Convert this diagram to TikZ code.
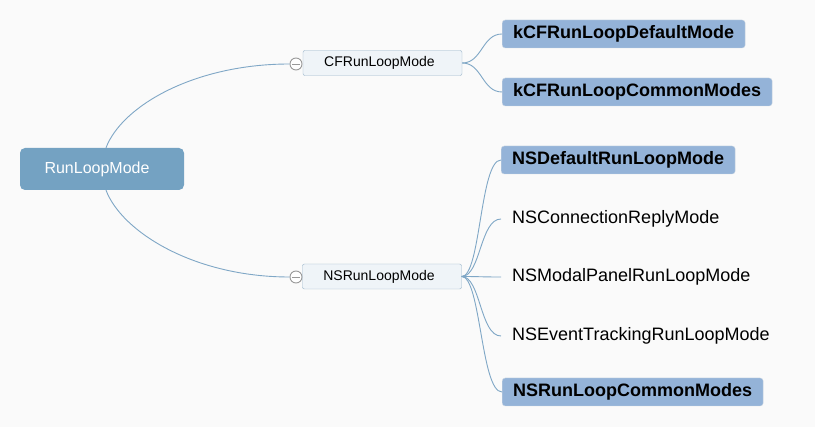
\documentclass[tikz,border=0pt]{standalone}
\usepackage{fontspec}
\setmainfont{Liberation Sans}
\definecolor{bgcol}{HTML}{FAFAFA}
\definecolor{rootcol}{HTML}{74A2C2}
\definecolor{leafcol}{HTML}{94B3D8}
\definecolor{midfill}{HTML}{EFF4F8}
\definecolor{midline}{HTML}{98B3C9}
\definecolor{linkcol}{HTML}{7FA7C6}
\tikzset{
  rootbox/.style={fill=rootcol, rounded corners=5pt, text=white,
    minimum width=164pt, minimum height=42pt,
    font=\fontsize{16}{19}\selectfont},
  midbox/.style={draw=midline, fill=midfill, rounded corners=2pt,
    minimum width=159pt, minimum height=25pt,
    font=\fontsize{14}{16}\selectfont},
  leafbox/.style={fill=leafcol, draw=leafcol!85!black!40, rounded corners=3pt,
    anchor=west, inner xsep=11pt, minimum height=28pt,
    font=\bfseries\fontsize{18}{21}\selectfont},
  leaftext/.style={anchor=west, inner xsep=11pt,
    font=\fontsize{18}{21}\selectfont},
  toggle/.style={circle, draw=gray!80, fill=white, line width=0.9pt,
    minimum size=12pt, inner sep=0pt},
  link/.style={draw=linkcol, line width=0.9pt},
}
\begin{document}
\begin{tikzpicture}[x=1pt, y=-1pt]
    % background and frame of the picture
    \fill[bgcol] (0,0) rectangle (815,427);

    \node[rootbox] (root) at (102,169) {RunLoopMode\hspace*{10pt}};

    % second level
    \node[midbox] (cf) at (382.5,63) {CFRunLoopMode\hspace*{6pt}};
    \node[midbox] (ns) at (382,276.5) {NSRunLoopMode\hspace*{6pt}};
    \node[toggle] (cft) at (296,64) {};
    \node[toggle] (nst) at (296,277) {};
    \draw[gray!80, line width=0.9pt] ([xshift=-4]cft.center) -- ([xshift=4]cft.center);
    \draw[gray!80, line width=0.9pt] ([xshift=-4]nst.center) -- ([xshift=4]nst.center);

    % leaves
    \node[leafbox] (cfdef) at (502,34) {kCFRunLoopDefaultMode};
    \node[leafbox] (cfcom) at (502,92) {kCFRunLoopCommonModes};
    \node[leafbox] (nsdef) at (501,160) {NSDefaultRunLoopMode};
    \node[leaftext] (nscon) at (501,219) {NSConnectionReplyMode};
    \node[leaftext] (nsmod) at (501,277) {NSModalPanelRunLoopMode};
    \node[leaftext] (nsevt) at (501,336) {NSEventTrackingRunLoopMode};
    \node[leafbox] (nscom) at (502,392) {NSRunLoopCommonModes};

    % links
    \draw[link] ([xshift=4]root.north) .. controls +(16,-42) and +(-95,0) .. (cft.west);
    \draw[link] ([xshift=4]root.south) .. controls +(16,42) and +(-95,0) .. (nst.west);

    \foreach \leaf in {cfdef,cfcom}
        \draw[link] (cf.east) .. controls +(20,0) and +(-20,0) .. (\leaf.west);
    \foreach \leaf in {nsdef,nscon,nsmod,nsevt,nscom}
        \draw[link] (ns.east) .. controls +(19,0) and +(-21,0) .. (\leaf.west);
\end{tikzpicture}
\end{document}
